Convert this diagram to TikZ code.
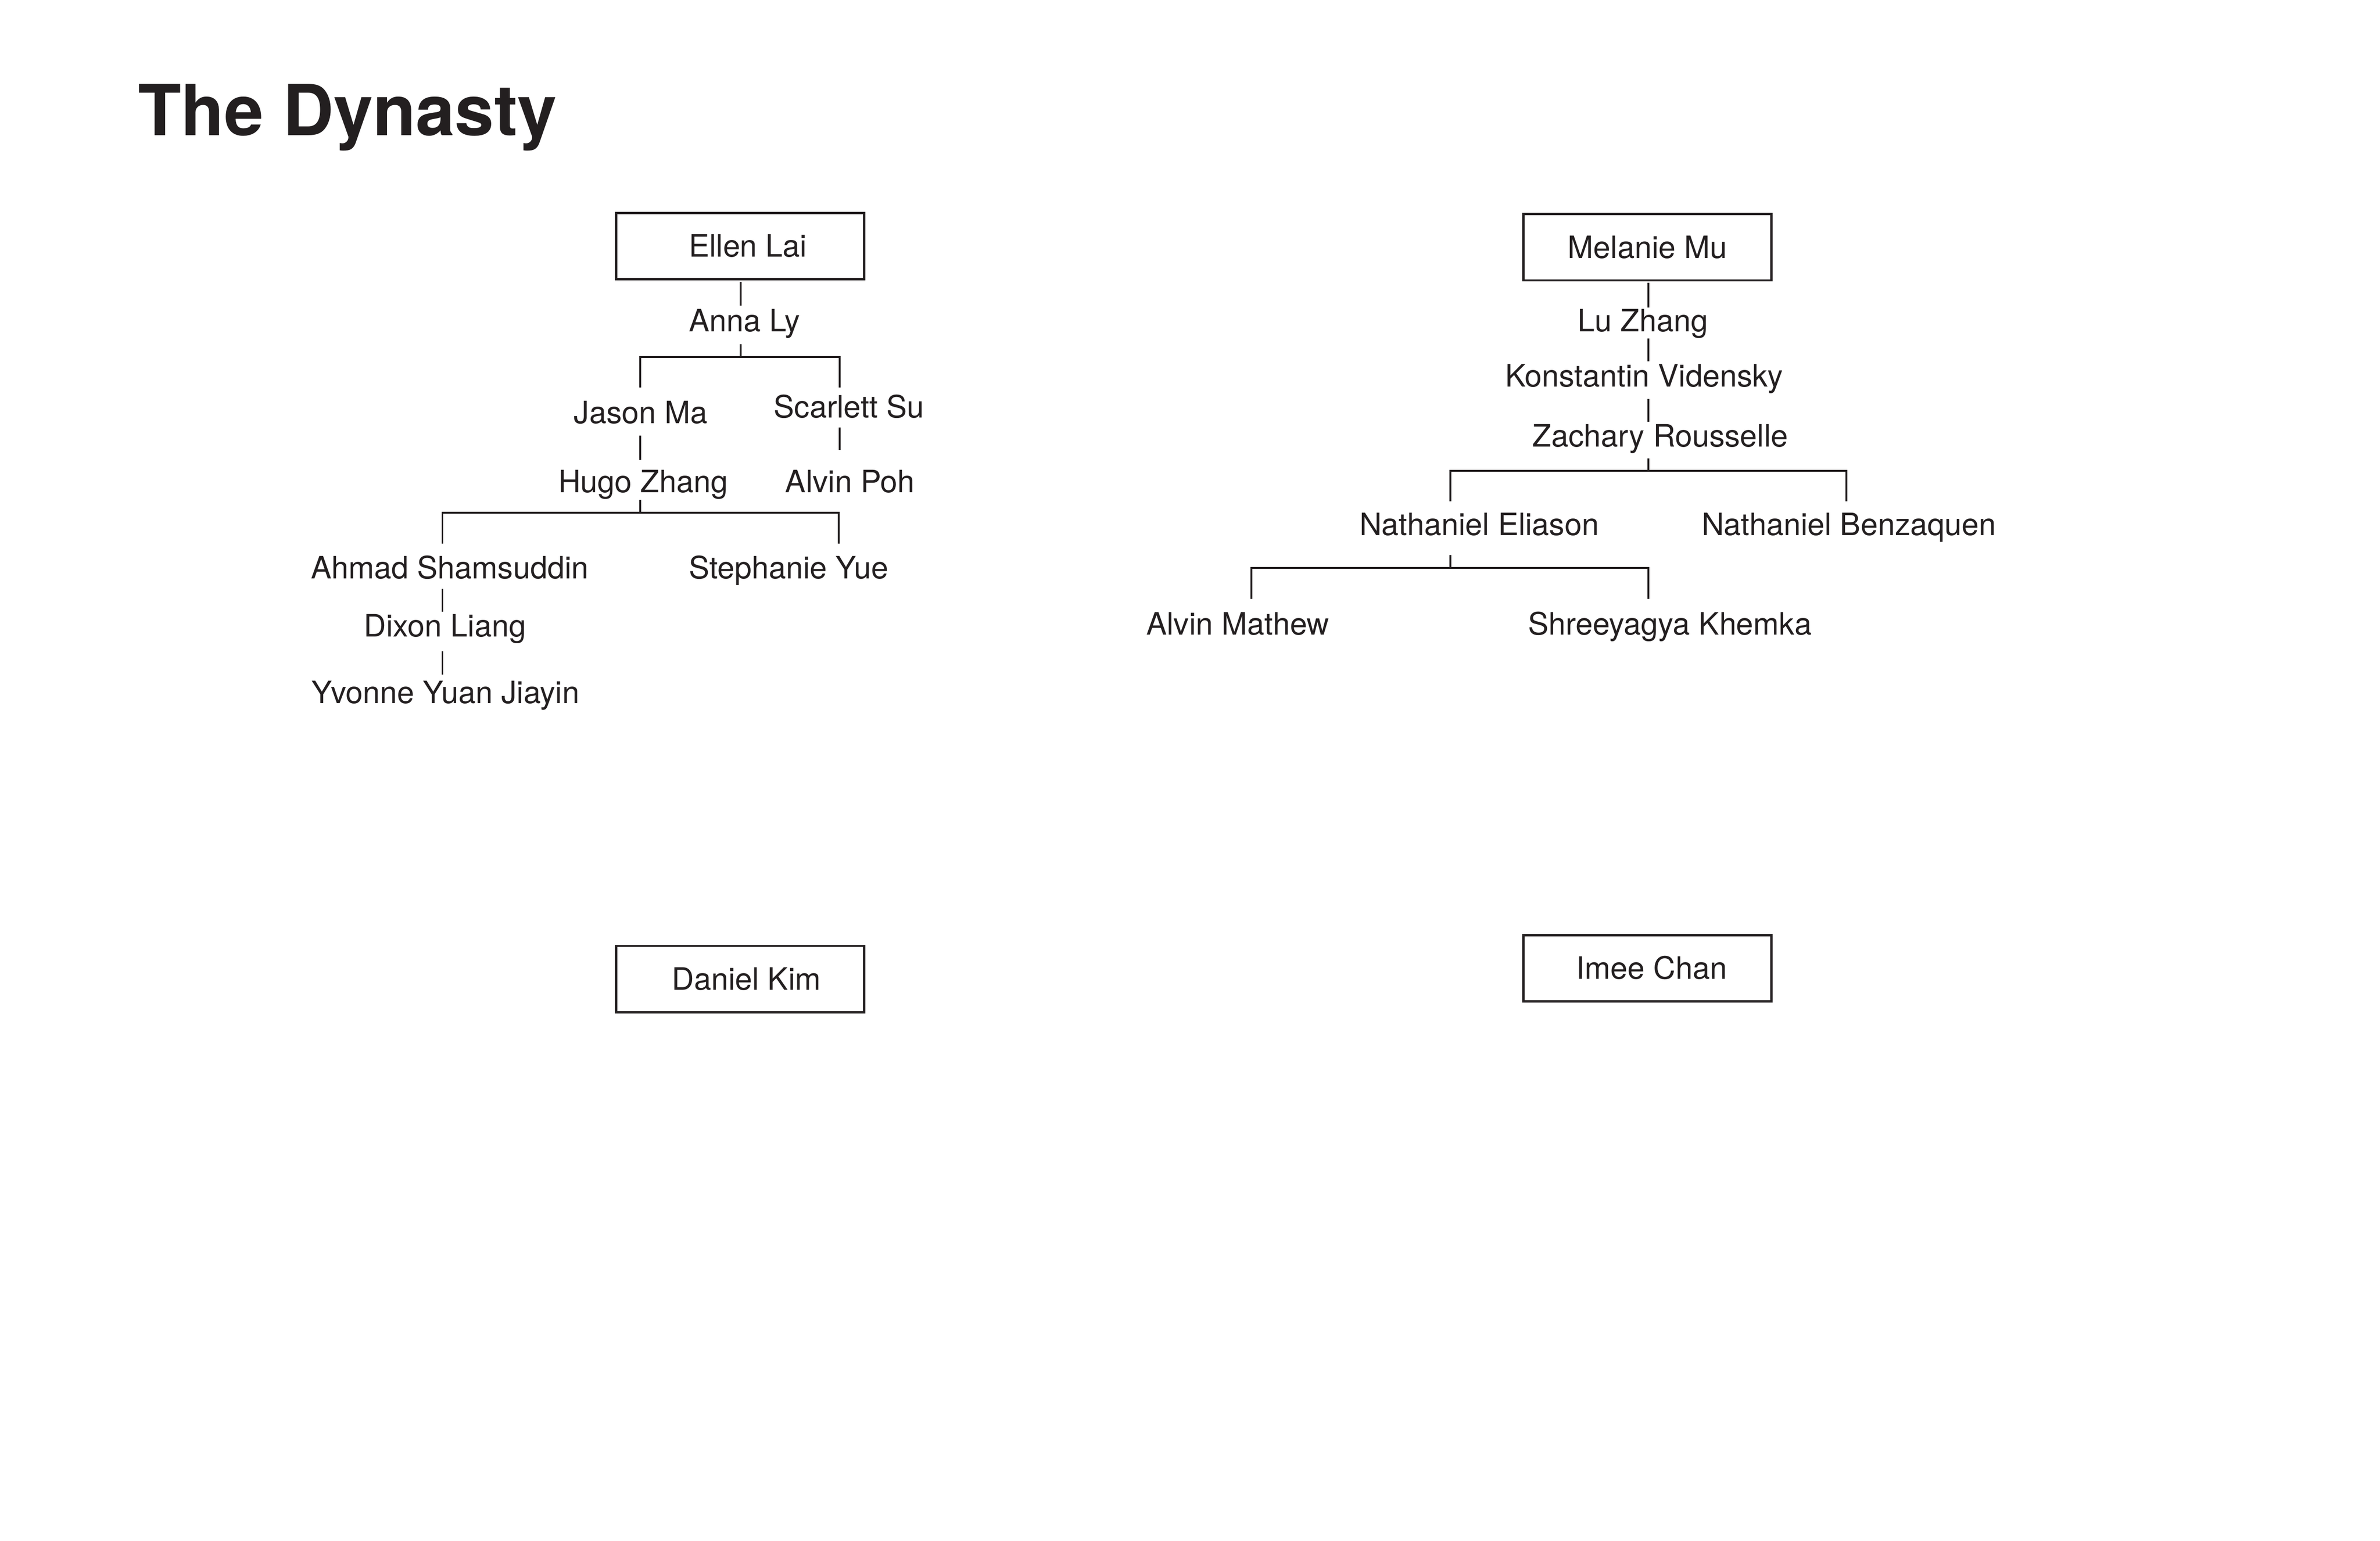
\documentclass[tikz,border=0pt]{standalone}
\usepackage{fontspec}
\setmainfont{TeX Gyre Heros}
\definecolor{ink}{HTML}{231F20}
\begin{document}
\begin{tikzpicture}[x=1pt,y=-1pt,
  person/.style={anchor=base,inner sep=0pt,font=\fontsize{20}{24}\selectfont,text=ink},
  rootbox/.style={draw=ink,line width=1.5pt,minimum width=161pt,minimum height=43pt,inner sep=0pt,
    text height=14pt,text depth=0pt,font=\fontsize{20}{24}\selectfont,text=ink},
  link/.style={draw=ink,line width=1.2pt}]
\useasboundingbox (0,0) rectangle (1545,1000);
\fill[white] (0,0) rectangle (1545,1000);

% title
\node[anchor=base west,inner sep=0pt,text=ink,font=\fontsize{45.7}{52}\selectfont\bfseries] (title) at (89.5,88) {The Dynasty};

\begin{scope}[xshift=-1.5pt]
% ---------- left tree ----------
\node[rootbox] (ellen) at (482,159.8) {\kern10pt Ellen Lai};
\node[person] (anna) at (484.8,215.2) {Anna Ly};
\node[person] (jason) at (417.4,275.0) {Jason Ma};
\node[person] (scarlett) at (552.6,271.2) {Scarlett Su};
\node[person] (hugo) at (419,319.8) {Hugo Zhang};
\node[person] (alvinpoh) at (553.3,319.8) {Alvin Poh};
\node[person] (ahmad) at (293.5,375.6) {Ahmad Shamsuddin};
\node[person] (stephanie) at (513.5,375.6) {Stephanie Yue};
\node[person] (dixon) at (290.4,413.2) {Dixon Liang};
\node[person] (yvonne) at (290.6,456.5) {Yvonne Yuan Jiayin};

\coordinate (e1) at (482.2,183.0); \coordinate (e2) at (482.2,198.4);
\draw[link] (e1) -- (e2);
\coordinate (a1) at (482.2,223.3); \coordinate (a2) at (482.2,231.8);
\coordinate (aL) at (417.2,251.4); \coordinate (aR) at (546.6,251.4);
\draw[link] (a1) -- (a2);
\draw[link] (aL) |- (a2) -| (aR);
\coordinate (j1) at (417.2,282.8); \coordinate (j2) at (417.2,298.4);
\draw[link] (j1) -- (j2);
\coordinate (s1) at (546.6,277.4); \coordinate (s2) at (546.6,292.1);
\draw[link] (s1) -- (s2);
\coordinate (h1) at (417.2,324.3); \coordinate (h2) at (417.2,332.9);
\coordinate (hL) at (288.7,352.9); \coordinate (hR) at (546.0,352.9);
\draw[link] (h1) -- (h2);
\draw[link] (hL) |- (h2) -| (hR);
\coordinate (m1) at (288.7,382.2); \coordinate (m2) at (288.7,397.2);
\draw[link] (m1) -- (m2);
\coordinate (d1) at (288.7,422.6); \coordinate (d2) at (288.7,438.0);
\draw[link] (d1) -- (d2);

\node[rootbox] (daniel) at (482,635.5) {\kern8pt Daniel Kim};

% ---------- right tree ----------
\node[rootbox] (melanie) at (1071,160.5) {Melanie Mu};
\node[person] (lu) at (1068,215.2) {Lu Zhang};
\node[person] (konst) at (1068.8,251.1) {Konstantin Vidensky};
\node[person] (zach) at (1079.3,289.9) {Zachary Rousselle};
\node[person] (eliason) at (961.8,347.5) {Nathaniel Eliason};
\node[person] (benz) at (1201.8,347.5) {Nathaniel Benzaquen};
\node[person] (alvinm) at (805,412.2) {Alvin Mathew};
\node[person] (shree) at (1085.5,412.2) {Shreeyagya Khemka};

\coordinate (mm1) at (1071.5,183.4); \coordinate (mm2) at (1071.5,199.6);
\draw[link] (mm1) -- (mm2);
\coordinate (l1) at (1071.5,219.6); \coordinate (l2) at (1071.5,234.4);
\draw[link] (l1) -- (l2);
\coordinate (k1) at (1071.5,258.8); \coordinate (k2) at (1071.5,273.8);
\draw[link] (k1) -- (k2);
\coordinate (z1) at (1071.5,297.6); \coordinate (z2) at (1071.5,305.7);
\coordinate (zL) at (943,325.5); \coordinate (zR) at (1200.1,325.5);
\draw[link] (z1) -- (z2);
\draw[link] (zL) |- (z2) -| (zR);
\coordinate (n1) at (943,360.2); \coordinate (n2) at (943,368.7);
\coordinate (nL) at (813.9,388.6); \coordinate (nR) at (1071.5,388.6);
\draw[link] (n1) -- (n2);
\draw[link] (nL) |- (n2) -| (nR);

\node[rootbox] (imee) at (1071,628.5) {\kern5.6pt Imee Chan};
\end{scope}
\end{tikzpicture}
\end{document}
